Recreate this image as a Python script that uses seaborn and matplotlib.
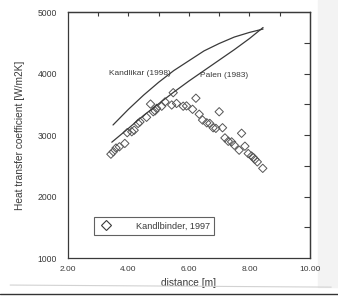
import numpy as np
import pandas as pd
import matplotlib
matplotlib.use("Agg")
import matplotlib.pyplot as plt
import seaborn as sns
from matplotlib.lines import Line2D
from matplotlib.patches import Rectangle

# measured points (Kandlbinder, 1997)
dist_meas = [3.42, 3.50, 3.59, 3.70, 3.88, 3.96, 4.11, 4.19, 4.32, 4.38, 4.60, 4.73,
             4.82, 4.88, 4.93, 5.10, 5.21, 5.43, 5.48, 5.59, 5.81, 5.92, 6.12, 6.23,
             6.34, 6.45, 6.59, 6.69, 6.80, 6.89, 7.00, 7.11, 7.19, 7.30, 7.41, 7.50,
             7.66, 7.74, 7.85, 7.96, 8.07, 8.13, 8.18, 8.26, 8.44]
htc_meas = [2690, 2730, 2790, 2810, 2865, 3040, 3055, 3080, 3190, 3215, 3290, 3505,
            3380, 3395, 3435, 3470, 3540, 3490, 3690, 3515, 3470, 3475, 3420, 3600,
            3340, 3245, 3200, 3190, 3120, 3110, 3380, 3120, 2955, 2900, 2890, 2835,
            2755, 3030, 2820, 2700, 2660, 2635, 2605, 2565, 2460]

# correlations
dist_kand = [3.49, 4.0, 4.5, 5.0, 5.5, 6.0, 6.5, 7.0, 7.5, 8.0, 8.45]
htc_kand = [3165, 3420, 3650, 3860, 4050, 4210, 4370, 4490, 4595, 4670, 4725]
dist_palen = [3.45, 4.0, 4.5, 5.0, 5.5, 6.0, 6.5, 7.0, 7.5, 8.0, 8.45]
htc_palen = [2885, 3110, 3320, 3510, 3700, 3880, 4050, 4220, 4390, 4570, 4750]

meas = pd.DataFrame({"distance": dist_meas, "htc": htc_meas})
kand = pd.DataFrame({"distance": dist_kand, "htc": htc_kand})
palen = pd.DataFrame({"distance": dist_palen, "htc": htc_palen})

sns.set_style("white")
plt.rcParams["font.family"] = ["Liberation Sans", "DejaVu Sans"]

ink = "#3a3a3a"
fig = plt.figure(figsize=(3.38, 2.96), dpi=100)
ax = fig.add_axes([0.201, 0.128, 0.716, 0.831])

sns.lineplot(data=kand, x="distance", y="htc", ax=ax, color=ink, lw=0.9)
sns.lineplot(data=palen, x="distance", y="htc", ax=ax, color=ink, lw=0.9)
sns.scatterplot(data=meas, x="distance", y="htc", ax=ax, marker="D", s=18,
                facecolor="none", edgecolor="#555555", linewidth=0.7)

ax.text(4.38, 4010, "Kandlikar (1998)", fontsize=6, color=ink, ha="center", va="center")
ax.text(7.15, 3975, "Palen (1983)", fontsize=6, color=ink, ha="center", va="center")

ax.set_xlim(2, 10)
ax.set_ylim(1000, 5000)
ax.set_xticks([2, 4, 6, 8, 10])
ax.set_xticklabels(["2.00", "4.00", "6.00", "8.00", "10.00"])
ax.set_xticks([3, 5, 7, 9], minor=True)
ax.set_yticks([1000, 2000, 3000, 4000, 5000])
ax.set_yticks([1500, 2500, 3500, 4500], minor=True)
ax.set_xlabel("distance [m]", fontsize=7.3, color=ink, labelpad=3)
ax.set_ylabel("Heat transfer coefficient [W/m2K]", fontsize=7.3, color=ink, labelpad=9)

ax.tick_params(axis="x", which="major", direction="inout", length=6, width=0.8,
               labelsize=6, labelcolor=ink, color=ink, pad=3)
ax.tick_params(axis="x", which="minor", direction="in", length=3, width=0.8, color=ink)
ax.tick_params(axis="y", which="both", direction="out", length=4, width=0.8,
               labelsize=6.2, labelcolor=ink, color=ink, pad=4)
ax.tick_params(axis="y", which="minor", length=3)

top = ax.secondary_xaxis("top")
top.set_xticks([3, 4, 5, 6, 7, 8, 9])
top.tick_params(direction="in", length=3, width=0.8, labeltop=False, color=ink)
right = ax.secondary_yaxis("right")
right.set_yticks([1500, 2000, 2500, 3000, 3500, 4000, 4500])
right.tick_params(direction="in", length=4, width=0.8, labelright=False, color=ink)
for sp in list(ax.spines.values()) + [top.spines["top"], right.spines["right"]]:
    sp.set_color(ink)
    sp.set_linewidth(0.9)

handle = Line2D([], [], marker="D", ls="none", markersize=5.5, markerfacecolor="none",
                markeredgecolor=ink, markeredgewidth=0.8)
leg = ax.legend([handle], ["Kandlbinder, 1997"], loc="lower left",
                bbox_to_anchor=(0.09, 0.075), fontsize=6.6, frameon=True,
                fancybox=False, edgecolor=ink, handletextpad=2.4, borderpad=0.5,
                handlelength=1.6)
leg.get_frame().set_linewidth(0.8)
for t in leg.get_texts():
    t.set_color(ink)

# scanned page edges
fig.add_artist(Rectangle((0.94, 0.03), 0.06, 0.97, transform=fig.transFigure,
                         color="#f3f3f3", zorder=-1))
fig.add_artist(Line2D([0.03, 0.98], [0.037, 0.03], transform=fig.transFigure,
                      color="#d2d2d2", lw=0.8))
fig.add_artist(Line2D([0, 1], [0.007, 0.007], transform=fig.transFigure,
                      color="#333333", lw=1.0))

fig.savefig("out.png", dpi=100)
